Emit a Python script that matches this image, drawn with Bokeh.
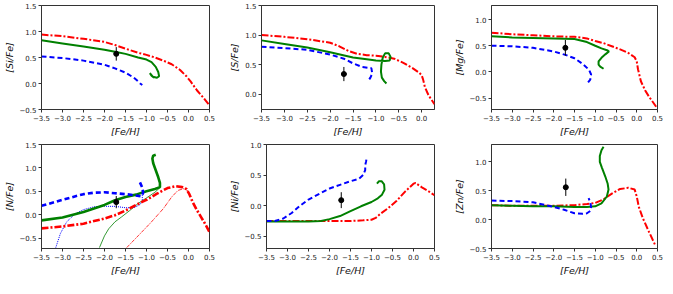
from bokeh.plotting import figure
from bokeh.layouts import column, row
from bokeh.models import FixedTicker, Range1d
from bokeh.embed import file_html
from bokeh.resources import INLINE

# ---------------- data ----------------
x_ticks_a = [-3.5, -3.0, -2.5, -2.0, -1.5, -1.0, -0.5, 0.0, 0.5]
x_ticks_b = [-3.5, -3.0, -2.5, -2.0, -1.5, -1.0, -0.5, 0.0]
y_ticks_si = [-0.5, 0.0, 0.5, 1.0, 1.5]
y_ticks_s = [0.0, 0.5, 1.0, 1.5]
y_ticks_mg = [-0.5, 0.0, 0.5, 1.0]
y_ticks_n = [-0.5, 0.0, 0.5, 1.0, 1.5]
y_ticks_ni = [-0.5, 0.0, 0.5, 1.0]
y_ticks_zn = [-0.5, 0.0, 0.5, 1.0]

y_labels = ["[Si/Fe]", "[S/Fe]", "[Mg/Fe]", "[N/Fe]", "[Ni/Fe]", "[Zn/Fe]"]
x_label = "[Fe/H]"

# observation (x, y, xerr, yerr)
obs_si = [-1.72, 0.57, 0.06, 0.13]
obs_s = [-1.70, 0.34, 0.06, 0.12]
obs_mg = [-1.72, 0.46, 0.06, 0.15]
obs_n = [-1.72, 0.27, 0.06, 0.13]
obs_ni = [-1.72, 0.09, 0.06, 0.13]
obs_zn = [-1.71, 0.56, 0.06, 0.15]

# Si
si_red_x = [-3.5, -3.0, -2.5, -2.0, -1.75, -1.5, -1.2, -1.0, -0.8, -0.6, -0.4, -0.2, -0.05, 0.05, 0.2, 0.35, 0.5]
si_red_y = [0.94, 0.91, 0.86, 0.80, 0.74, 0.67, 0.59, 0.55, 0.50, 0.44, 0.37, 0.26, 0.14, 0.04, -0.13, -0.27, -0.42]
si_green_x = [-3.5, -3.0, -2.5, -2.0, -1.75, -1.5, -1.2, -1.0, -0.88, -0.78, -0.72, -0.70, -0.75, -0.85, -0.92, -0.88, -0.82]
si_green_y = [0.83, 0.77, 0.71, 0.65, 0.61, 0.57, 0.50, 0.46, 0.41, 0.32, 0.22, 0.14, 0.11, 0.13, 0.20, 0.15, 0.11]
si_blue_x = [-3.5, -3.0, -2.5, -2.0, -1.75, -1.5, -1.3, -1.2, -1.15, -1.1]
si_blue_y = [0.52, 0.49, 0.44, 0.36, 0.29, 0.21, 0.11, 0.04, 0.0, -0.03]

# S
s_red_x = [-3.5, -3.0, -2.5, -2.0, -1.8, -1.6, -1.4, -1.2, -1.0, -0.8, -0.6, -0.4, -0.2, -0.05, 0.0, 0.03, 0.07, 0.15, 0.28]
s_red_y = [1.0, 0.97, 0.93, 0.87, 0.81, 0.73, 0.68, 0.66, 0.65, 0.63, 0.60, 0.53, 0.44, 0.36, 0.32, 0.25, 0.12, -0.02, -0.17]
s_green_x = [-3.5, -3.0, -2.5, -2.0, -1.5, -1.2, -1.0, -0.8, -0.7, -0.68, -0.72, -0.8, -0.85, -0.88, -0.89, -0.87, -0.82, -0.77]
s_green_y = [0.91, 0.85, 0.79, 0.71, 0.62, 0.59, 0.57, 0.56, 0.57, 0.63, 0.69, 0.69, 0.62, 0.50, 0.38, 0.28, 0.22, 0.18]
s_blue_x = [-3.5, -3.0, -2.5, -2.0, -1.7, -1.5, -1.3, -1.1, -1.08, -1.12, -1.17]
s_blue_y = [0.80, 0.78, 0.75, 0.67, 0.60, 0.52, 0.46, 0.44, 0.35, 0.28, 0.22]

# Mg
mg_red_x = [-3.5, -3.0, -2.5, -2.0, -1.5, -1.2, -1.0, -0.8, -0.6, -0.4, -0.2, -0.05, 0.0, 0.03, 0.1, 0.2, 0.3, 0.48]
mg_red_y = [0.75, 0.72, 0.70, 0.68, 0.67, 0.64, 0.59, 0.55, 0.49, 0.43, 0.36, 0.28, 0.20, 0.05, -0.18, -0.35, -0.48, -0.68]
mg_green_x = [-3.5, -3.0, -2.5, -2.0, -1.5, -1.2, -1.0, -0.85, -0.7, -0.67, -0.75, -0.85, -0.92, -0.92, -0.88, -0.8]
mg_green_y = [0.68, 0.66, 0.65, 0.64, 0.63, 0.57, 0.50, 0.45, 0.41, 0.39, 0.34, 0.27, 0.20, 0.14, 0.10, 0.06]
mg_blue_x = [-3.5, -3.0, -2.5, -2.0, -1.7, -1.5, -1.3, -1.15, -1.1, -1.12, -1.2]
mg_blue_y = [0.50, 0.49, 0.46, 0.39, 0.32, 0.26, 0.15, 0.04, -0.05, -0.15, -0.23]

# N
n_red_x = [-3.5, -3.0, -2.5, -2.0, -1.75, -1.5, -1.25, -1.0, -0.75, -0.5, -0.3, -0.15, -0.05, 0.02, 0.1, 0.2, 0.3, 0.4, 0.5]
n_red_y = [-0.29, -0.25, -0.19, -0.08, -0.01, 0.09, 0.21, 0.32, 0.45, 0.57, 0.61, 0.59, 0.55, 0.44, 0.27, 0.10, -0.05, -0.20, -0.37]
n_red_thin_x = [-1.47, -1.2, -0.9, -0.6, -0.4, -0.25, -0.1, 0.0]
n_red_thin_y = [-0.70, -0.45, -0.17, 0.13, 0.38, 0.52, 0.56, 0.50]
n_green_x = [-3.5, -3.0, -2.5, -2.0, -1.75, -1.5, -1.25, -1.0, -0.8, -0.68, -0.68, -0.72, -0.78, -0.84, -0.86, -0.84, -0.78]
n_green_y = [-0.12, -0.06, 0.06, 0.21, 0.31, 0.38, 0.43, 0.50, 0.55, 0.59, 0.68, 0.80, 0.95, 1.10, 1.20, 1.26, 1.28]
n_green_thin_x = [-2.12, -2.0, -1.9, -1.75, -1.6, -1.4, -1.2, -1.0, -0.8, -0.68]
n_green_thin_y = [-0.70, -0.45, -0.30, -0.15, -0.05, 0.09, 0.24, 0.36, 0.48, 0.58]
n_blue_x = [-3.5, -3.0, -2.5, -2.25, -2.0, -1.75, -1.5, -1.3, -1.12, -1.08, -1.1, -1.14, -1.17]
n_blue_y = [0.19, 0.32, 0.44, 0.47, 0.48, 0.46, 0.44, 0.42, 0.39, 0.47, 0.58, 0.66, 0.72]
n_blue_thin_x = [-3.16, -3.05, -2.9, -2.7, -2.5, -2.25, -2.0, -1.75, -1.5, -1.3, -1.15, -1.1, -1.1]
n_blue_thin_y = [-0.70, -0.40, -0.15, 0.02, 0.11, 0.17, 0.18, 0.18, 0.15, 0.15, 0.22, 0.32, 0.42]

# Ni
ni_red_x = [-3.5, -3.0, -2.5, -2.0, -1.5, -1.2, -1.0, -0.9, -0.8, -0.6, -0.4, -0.2, 0.0, 0.05, 0.2, 0.35, 0.5]
ni_red_y = [-0.25, -0.25, -0.25, -0.25, -0.25, -0.24, -0.23, -0.20, -0.14, -0.04, 0.08, 0.23, 0.36, 0.37, 0.30, 0.24, 0.17]
ni_green_x = [-3.5, -3.0, -2.5, -2.2, -2.0, -1.75, -1.5, -1.25, -1.0, -0.85, -0.75, -0.69, -0.70, -0.76, -0.82, -0.87]
ni_green_y = [-0.26, -0.26, -0.26, -0.25, -0.22, -0.17, -0.09, -0.01, 0.06, 0.12, 0.18, 0.26, 0.35, 0.40, 0.40, 0.36]
ni_blue_x = [-3.5, -3.3, -3.1, -2.9, -2.7, -2.5, -2.2, -2.0, -1.75, -1.5, -1.3, -1.2, -1.15, -1.15, -1.13, -1.12]
ni_blue_y = [-0.25, -0.25, -0.21, -0.12, 0.00, 0.10, 0.21, 0.28, 0.34, 0.40, 0.44, 0.50, 0.58, 0.66, 0.72, 0.76]

# Zn
zn_red_x = [-3.5, -3.0, -2.5, -2.0, -1.5, -1.2, -1.0, -0.8, -0.6, -0.4, -0.2, -0.05, 0.0, 0.05, 0.15, 0.3, 0.45]
zn_red_y = [0.25, 0.24, 0.24, 0.24, 0.25, 0.27, 0.29, 0.35, 0.45, 0.53, 0.55, 0.52, 0.40, 0.22, 0.02, -0.22, -0.45]
zn_green_x = [-3.5, -3.0, -2.5, -2.0, -1.5, -1.2, -1.0, -0.85, -0.72, -0.68, -0.70, -0.76, -0.84, -0.89, -0.89, -0.85, -0.80]
zn_green_y = [0.25, 0.24, 0.23, 0.23, 0.22, 0.22, 0.23, 0.28, 0.40, 0.52, 0.62, 0.75, 0.90, 1.00, 1.10, 1.20, 1.26]
zn_blue_x = [-3.5, -3.0, -2.5, -2.0, -1.75, -1.5, -1.3, -1.2, -1.12, -1.1, -1.12, -1.16]
zn_blue_y = [0.33, 0.32, 0.30, 0.22, 0.17, 0.11, 0.10, 0.11, 0.15, 0.22, 0.30, 0.37]

# ---------------- styling ----------------
RED = "#ff0000"
GREEN = "#008000"
BLUE = "#0000ff"
FONT = "DejaVu Sans"


def fmt(v):
    s = "%.1f" % v
    return s.replace("-", "\u2212")


def make_fig(xr, yr, xt, yt, ylab, w, right_border):
    p = figure(x_range=Range1d(*xr), y_range=Range1d(*yr),
               width=w, height=139,
               min_border_left=36, min_border_right=right_border,
               min_border_top=5, min_border_bottom=28,
               output_backend="svg", toolbar_location=None,
               background_fill_color="white", border_fill_color="white")
    p.grid.visible = False
    p.outline_line_color = "#333333"
    p.outline_line_width = 1
    p.outline_line_alpha = 1
    p.xaxis.ticker = FixedTicker(ticks=xt)
    p.yaxis.ticker = FixedTicker(ticks=yt)
    p.xaxis.major_label_overrides = {v: fmt(v) for v in xt}
    p.yaxis.major_label_overrides = {v: fmt(v) for v in yt}
    for ax in (p.xaxis[0], p.yaxis[0]):
        ax.axis_line_color = "#333333"
        ax.major_tick_line_color = "#333333"
        ax.major_tick_out = 3
        ax.major_tick_in = 0
        ax.minor_tick_line_color = None
        ax.major_label_text_font = FONT
        ax.major_label_text_font_size = "7px"
        ax.major_label_text_color = "#222222"
        ax.major_label_standoff = 2
        ax.axis_label_text_font = FONT
        ax.axis_label_text_font_size = "9.5px"
        ax.axis_label_text_font_style = "italic"
        ax.axis_label_text_color = "#111111"
        ax.axis_label_standoff = 2
    p.xaxis.axis_label = x_label
    p.yaxis.axis_label = ylab
    return p


def thick(p, xs, ys, color, kind, w=2.0):
    if kind == "dashdot":
        p.line(xs, ys, line_color=color, line_width=w, line_dash="7 2 2 2")
    elif kind == "dashed":
        p.line(xs, ys, line_color=color, line_width=w, line_dash="5 3")
    else:
        p.line(xs, ys, line_color=color, line_width=w)


def obs(p, o):
    x, y, xe, ye = o
    p.segment(x0=[x], y0=[y - ye], x1=[x], y1=[y + ye], line_color="black", line_width=1)
    p.segment(x0=[x - xe], y0=[y], x1=[x + xe], y1=[y], line_color="black", line_width=1)
    p.scatter([x], [y], size=5, color="black")


p1 = make_fig((-3.5, 0.5), (-0.5, 1.5), x_ticks_a, y_ticks_si, y_labels[0], 225, 16)
thick(p1, si_red_x, si_red_y, RED, "dashdot")
thick(p1, si_green_x, si_green_y, GREEN, "solid")
thick(p1, si_blue_x, si_blue_y, BLUE, "dashed")
obs(p1, obs_si)

p2 = make_fig((-3.5, 0.28), (-0.26, 1.5), x_ticks_b, y_ticks_s, y_labels[1], 225, 16)
thick(p2, s_red_x, s_red_y, RED, "dashdot")
thick(p2, s_green_x, s_green_y, GREEN, "solid")
thick(p2, s_blue_x, s_blue_y, BLUE, "dashed")
obs(p2, obs_s)

p3 = make_fig((-3.5, 0.5), (-0.72, 1.27), x_ticks_a, y_ticks_mg, y_labels[2], 213, 6)
thick(p3, mg_red_x, mg_red_y, RED, "dashdot")
thick(p3, mg_green_x, mg_green_y, GREEN, "solid")
thick(p3, mg_blue_x, mg_blue_y, BLUE, "dashed")
obs(p3, obs_mg)

p4 = make_fig((-3.5, 0.5), (-0.72, 1.5), x_ticks_a, y_ticks_n, y_labels[3], 225, 16)
p4.line(n_blue_thin_x, n_blue_thin_y, line_color=BLUE, line_width=1, line_dash="1 1")
p4.line(n_green_thin_x, n_green_thin_y, line_color=GREEN, line_width=0.8)
p4.line(n_red_thin_x, n_red_thin_y, line_color=RED, line_width=0.8, line_dash="4 1 1 1")
thick(p4, n_red_x, n_red_y, RED, "dashdot", 2.6)
thick(p4, n_green_x, n_green_y, GREEN, "solid", 2.6)
thick(p4, n_blue_x, n_blue_y, BLUE, "dashed", 2.6)
obs(p4, obs_n)

p5 = make_fig((-3.5, 0.5), (-0.7, 1.0), x_ticks_a, y_ticks_ni, y_labels[4], 225, 16)
thick(p5, ni_red_x, ni_red_y, RED, "dashdot")
thick(p5, ni_green_x, ni_green_y, GREEN, "solid")
thick(p5, ni_blue_x, ni_blue_y, BLUE, "dashed")
obs(p5, obs_ni)

p6 = make_fig((-3.5, 0.5), (-0.5, 1.3), x_ticks_a, y_ticks_zn, y_labels[5], 213, 6)
thick(p6, zn_red_x, zn_red_y, RED, "dashdot")
thick(p6, zn_green_x, zn_green_y, GREEN, "solid")
thick(p6, zn_blue_x, zn_blue_y, BLUE, "dashed")
obs(p6, obs_zn)

layout = column(row(p1, p2, p3), row(p4, p5, p6))
open("out.html", "w").write(file_html(layout, INLINE))
